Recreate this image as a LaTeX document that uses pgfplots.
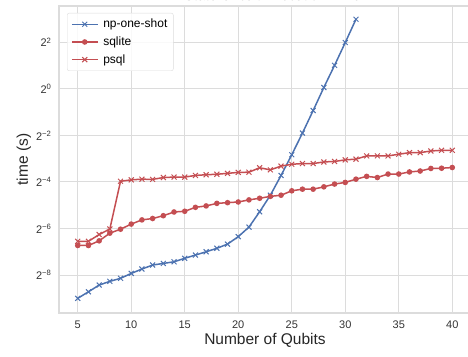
\documentclass[border=0pt]{standalone}
\usepackage{fontspec}
\setmainfont{Liberation Sans}
\usepackage{pgfplots}
\usepackage{pgfplotstable}
\pgfplotsset{compat=1.18}
\definecolor{sbblue}{HTML}{4C72B0}
\definecolor{sbred}{HTML}{C44E52}
\definecolor{gridc}{HTML}{DCDCDC}

% y values are log2(time in s)
\pgfplotstableread{
n e
5 -9.00
6 -8.72
7 -8.43
8 -8.27
9 -8.14
10 -7.93
11 -7.74
12 -7.57
13 -7.50
14 -7.43
15 -7.28
16 -7.14
17 -7.00
18 -6.85
19 -6.67
20 -6.35
21 -5.94
22 -5.28
23 -4.57
24 -3.72
25 -2.83
26 -1.90
27 -0.93
28 0.06
29 1.01
30 1.99
31 2.99
}\npdata
\pgfplotstableread{
n e
5 -6.73
6 -6.73
7 -6.53
8 -6.20
9 -6.03
10 -5.81
11 -5.63
12 -5.57
13 -5.45
14 -5.29
15 -5.26
16 -5.09
17 -5.03
18 -4.92
19 -4.89
20 -4.86
21 -4.77
22 -4.70
23 -4.62
24 -4.57
25 -4.38
26 -4.31
27 -4.31
28 -4.21
29 -4.09
30 -4.02
31 -3.88
32 -3.76
33 -3.81
34 -3.66
35 -3.66
36 -3.57
37 -3.53
38 -3.42
39 -3.41
40 -3.38
}\sqlitedata
\pgfplotstableread{
n e
5 -6.55
6 -6.55
7 -6.26
8 -6.02
9 -3.97
10 -3.91
11 -3.88
12 -3.89
13 -3.81
14 -3.79
15 -3.79
16 -3.72
17 -3.69
18 -3.67
19 -3.63
20 -3.59
21 -3.58
22 -3.39
23 -3.48
24 -3.32
25 -3.24
26 -3.21
27 -3.21
28 -3.14
29 -3.12
30 -3.05
31 -3.02
32 -2.88
33 -2.88
34 -2.88
35 -2.81
36 -2.74
37 -2.74
38 -2.67
39 -2.64
40 -2.64
}\psqldata

\begin{document}
\begin{tikzpicture}[x=1pt,y=1pt]
\begin{axis}[
  at={(59pt,43pt)}, anchor=south west,
  scale only axis, width=412pt, height=307pt,
  xmin=3.25, xmax=41.75, ymin=-9.63, ymax=3.56,
  xtick={5,10,...,40},
  ytick={-8,-6,-4,-2,0,2},
  yticklabels={2\textsuperscript{−8},2\textsuperscript{−6},2\textsuperscript{−4},2\textsuperscript{−2},2\textsuperscript{0},2\textsuperscript{2}},
  /pgf/number format/assume math mode=true,
  grid=major,
  major grid style={draw=gridc, line width=1pt},
  axis line style={draw=gridc, line width=1.2pt},
  major tick length=0pt,
  tick style={draw=none},
  tick label style={font=\fontsize{11}{13}\selectfont, text=black!80},
  xticklabel style={yshift=-4pt},
  yticklabel style={xshift=-4pt},
  xlabel={Number of Qubits},
  ylabel={time (s)},
  label style={font=\fontsize{15.5}{18}\selectfont, text=black!85},
  xlabel style={yshift=2pt},
  ylabel style={yshift=-2pt},
  legend style={at={(0,1)}, anchor=north west, xshift=8pt, yshift=-7pt,
    draw=gridc, fill=white, fill opacity=0.85, text opacity=1, rounded corners=2pt,
    font=\fontsize{12}{14}\selectfont, row sep=3.5pt, column sep=3pt,
    inner xsep=4pt, inner ysep=4pt},
  legend cell align=left,
  legend image code/.code={
    \draw[mark repeat=2,mark phase=2] plot coordinates {(0cm,0cm) (0.45cm,0cm) (0.9cm,0cm)};
  },
  clip=false,
]
\addplot[sbblue, line width=1.5pt, mark=x, mark size=3.5pt, mark options={line width=1pt}] table[x=n,y=e] {\npdata};
\addlegendentry{np-one-shot}
\addplot[sbred, line width=1.5pt, mark=*, mark size=2pt] table[x=n,y=e] {\sqlitedata};
\addlegendentry{sqlite}
\addplot[sbred, line width=1.5pt, mark=x, mark size=3.5pt, mark options={line width=1pt}] table[x=n,y=e] {\psqldata};
\addlegendentry{psql}
\end{axis}
\node[anchor=base, font=\fontsize{14}{16}\selectfont, text=black!80] at (265,355) {N-State Circuit Execution Time};
\pgfresetboundingbox
\useasboundingbox (0,0) rectangle (468,356);
\end{tikzpicture}
\end{document}
